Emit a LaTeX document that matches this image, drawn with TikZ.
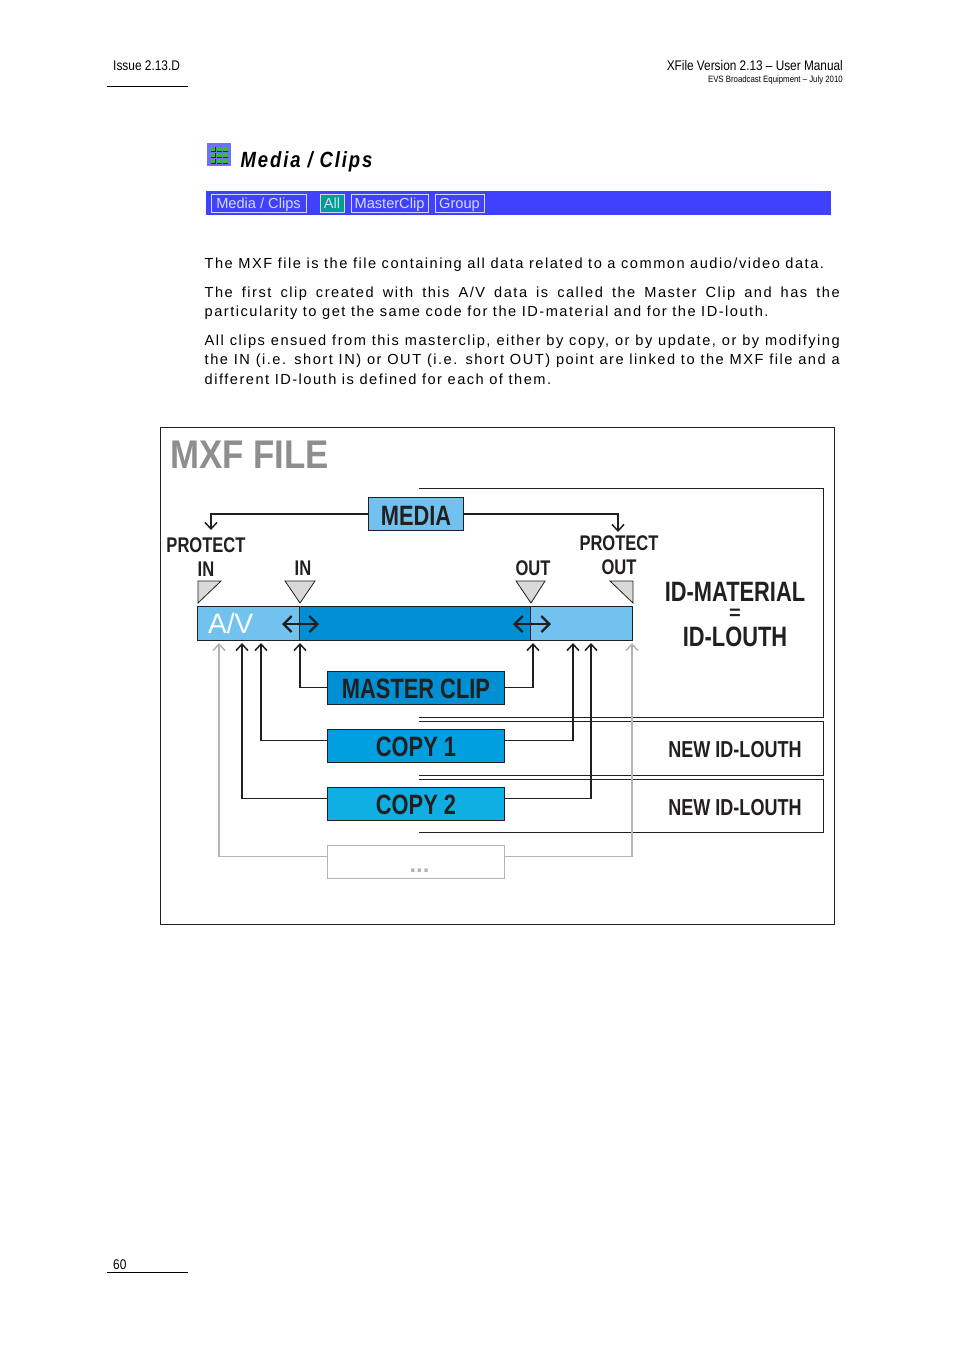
\documentclass[tikz,border=0pt]{standalone}
\usepackage{fontspec}
\setmainfont{Liberation Sans}
\newfontfamily\bodyfont[LetterSpace=10.3]{Liberation Sans}
\newfontfamily\titlefont[LetterSpace=8.5,FakeStretch=0.84]{Liberation Sans}
\newfontfamily\narrowfont[FakeStretch=0.78]{Liberation Sans}
\newfontfamily\headfont[FakeStretch=0.85]{Liberation Sans}
\newfontfamily\filefont[FakeStretch=0.87]{Liberation Sans}
\usetikzlibrary{arrows.meta, positioning}
\definecolor{BandBlue}{HTML}{4040FF}
\definecolor{TabText}{HTML}{D8D8FF}
\definecolor{TabTeal}{HTML}{009E8E}
\definecolor{ClipLight}{HTML}{72C2F0}
\definecolor{ClipDark}{HTML}{008FD3}
\definecolor{CopyOne}{HTML}{009FE0}
\definecolor{CopyTwo}{HTML}{0FAEE3}
\definecolor{MarkGrey}{HTML}{D9D9D9}
\definecolor{FileGrey}{HTML}{8E8E8E}
\definecolor{InkBlack}{HTML}{231F20}
\definecolor{FaintGrey}{HTML}{B4B4B4}
\definecolor{IconGreen}{HTML}{30C030}
\tikzset{
    pagetext/.style={
        inner sep=0pt,
        anchor=base west,
        text=black
    },
    bodytext/.style={
        pagetext,
        text width=635pt,
        align=justify,
        font=\fontsize{14.6}{19.5}\selectfont\bodyfont
    },
    tabbox/.style={
        draw=TabText,
        line width=0.8pt,
        minimum height=18pt,
        inner sep=0pt,
        text height=11pt,
        text depth=2pt,
        text=TabText,
        font=\fontsize{14.6}{16}\selectfont
    },
    box/.style={
        draw=InkBlack,
        line width=0.8pt,
        fill=#1,
        minimum width=177pt,
        minimum height=33pt,
        inner sep=0pt,
        text height=22pt,
        text depth=0pt,
        text=InkBlack,
        font=\fontsize{28}{30}\selectfont\narrowfont\bfseries
    },
    box/.default=ClipDark,
    marktext/.style={
        inner sep=0pt,
        text=InkBlack,
        font=\fontsize{21.2}{24}\selectfont\narrowfont\bfseries
    },
    bigtext/.style={
        inner sep=0pt,
        text=InkBlack,
        font=\fontsize{28}{30}\selectfont\narrowfont\bfseries
    },
    newtext/.style={
        inner sep=0pt,
        text=InkBlack,
        font=\fontsize{23.1}{26}\selectfont\narrowfont\bfseries
    },
    marker/.style={
        draw=InkBlack,
        line width=0.8pt,
        fill=MarkGrey
    },
    panel/.style={
        draw=InkBlack,
        line width=0.9pt
    },
    arrow/.style={
        -{Straight Barb[length=6.5pt,width=12pt,line width=1.5pt]},
        line width=1.5pt,
        InkBlack
    },
    greyarrow/.style={
        arrow,
        FaintGrey
    },
    bothways/.style={
        {Straight Barb[length=8pt,width=16pt,line width=2.3pt]}-{Straight Barb[length=8pt,width=16pt,line width=2.3pt]},
        line width=2.3pt,
        InkBlack
    }
}
\begin{document}
\begin{tikzpicture}[x=1pt, y=-1pt]
    \useasboundingbox[fill=white] (0,0) rectangle (954,1350);

    % Page header
    \node[pagetext, font=\fontsize{14}{16}\selectfont\headfont] (issue) at (113,70) {Issue 2.13.D};
    \node[pagetext, anchor=base east, font=\fontsize{13.9}{16}\selectfont\headfont] (manual) at (843,70) {XFile Version 2.13 – User Manual};
    \node[pagetext, anchor=base east, font=\fontsize{9.2}{11}\selectfont\headfont] (vendor) at (843,82) {EVS Broadcast Equipment – July 2010};
    \draw[line width=0.8pt] (107,86.5) -- (188,86.5);

    % Section title
    \fill[BandBlue!75!white] (207,143) rectangle (231,166);
    \foreach \col in {0,1,2}
        \foreach \row in {0,1,2} {
            \fill[black!85] (210.5+6.2*\col,147+6*\row) rectangle +(5.2,5.2);
            \fill[IconGreen] (211+6.2*\col,147+6*\row) rectangle +(4.4,3.8);
        }
    \node[pagetext, font=\fontsize{22}{24}\selectfont\titlefont\bfseries\itshape] (title) at (240.5,167) {Media / Clips};

    % Tab band
    \fill[BandBlue] (206,191) rectangle (831,215);
    \node[tabbox, minimum width=95pt] (tabMedia) at (258.5,203.5) {Media / Clips};
    \node[tabbox, minimum width=24pt, fill=TabTeal] (tabAll) at (332,203.5) {All};
    \node[tabbox, minimum width=77pt] (tabMaster) at (389.5,203.5) {MasterClip};
    \node[tabbox, minimum width=49pt] (tabGroup) at (459.5,203.5) {Group};

    % Body text
    \node[bodytext] (paraA) at (204.5,268) {The MXF file is the file containing all data related to a common audio/video data.};
    \node[bodytext] (paraB) at (204.5,297) {The first clip created with this A/V data is called the Master Clip and has the\linebreak particularity to get the same code for the ID-material and for the ID-louth.};
    \node[bodytext] (paraC) at (204.5,345) {All clips ensued from this masterclip, either by copy, or by update, or by modifying\linebreak the IN (i.e. short IN) or OUT (i.e. short OUT) point are linked to the MXF file and a\linebreak different ID-louth is defined for each of them.};

    % Frame and heading
    \draw[panel] (160.5,427.5) rectangle (834.5,924.5);
    \node[anchor=west, inner sep=0pt, text=FileGrey, font=\fontsize{40}{42}\selectfont\filefont\bfseries] (fileName) at (170,455) {MXF FILE};

    % Right panels
    \draw[panel] (419,488.5) -| (823.5,717.5) -- (419,717.5);
    \draw[panel] (419,721.5) -| (823.5,775.5) -- (419,775.5);
    \draw[panel] (419,779.5) -| (823.5,832.5) -- (419,832.5);
    \node[bigtext] (idMaterial) at (735,592) {ID-MATERIAL};
    \node[bigtext, font=\fontsize{20}{22}\selectfont\bfseries] (idEquals) at (735,614) {=};
    \node[bigtext] (idLouth) at (735,637) {ID-LOUTH};
    \node[newtext] (newLouthA) at (735,750) {NEW ID-LOUTH};
    \node[newtext] (newLouthB) at (735,808) {NEW ID-LOUTH};

    % Clip bar
    \node[draw=InkBlack, line width=0.8pt, fill=ClipLight, minimum width=435pt, minimum height=34pt, inner sep=0pt] (bar) at (415.2,623) {};
    \node[draw=InkBlack, line width=0.8pt, fill=ClipDark, minimum width=231pt, minimum height=34pt, inner sep=0pt] (barDark) at (415.2,623) {};
    \node[anchor=west, inner sep=0pt, text=white, font=\fontsize{28}{31}\selectfont] (avLabel) at (208,623) {A/V};
    \coordinate (inLeft) at (282,624);
    \coordinate (inRight) at (319,624);
    \coordinate (outLeft) at (513,624);
    \coordinate (outRight) at (551,624);
    \draw[bothways] (inLeft) -- (inRight);
    \draw[bothways] (outLeft) -- (outRight);

    % Markers
    \draw[marker] (198,581) -- (221,581) -- (198,603) -- cycle;
    \draw[marker] (285,581) -- (315,581) -- (300,603) -- cycle;
    \draw[marker] (516,581) -- (545,581) -- (531,603) -- cycle;
    \draw[marker] (610,581) -- (633,581) -- (633,603) -- cycle;
    \node[marktext] (protectIn) at (206,545) {PROTECT};
    \node[marktext] (protectInMark) at (206,569) {IN};
    \node[marktext] (inMark) at (303,568) {IN};
    \node[marktext] (outMark) at (533,568) {OUT};
    \node[marktext] (protectOutMark) at (619,567) {OUT};
    \node[marktext] (protectOut) at (619,543) {PROTECT};

    % Boxes
    \node[box=ClipLight, minimum width=95pt] (media) at (416,514) {MEDIA};
    \node[box=ClipDark] (masterClip) at (416,687.5) {MASTER CLIP};
    \node[box=CopyOne] (copyOne) at (416,745.5) {COPY 1};
    \node[box=CopyTwo] (copyTwo) at (416,803.5) {COPY 2};
    \node[box=white, draw=FaintGrey, text=FaintGrey, text height=10pt, font=\fontsize{24}{26}\selectfont\bfseries] (moreClips) at (416,861.5) {\hspace*{7pt}\raisebox{-6pt}{...}};

    % Connectors
    \coordinate (protectInTip) at (211,530);
    \coordinate (protectOutTip) at (618,532);
    \draw[arrow] (media.west) -| (protectInTip);
    \draw[arrow] (media.east) -| (protectOutTip);

    \coordinate (masterInTip) at (300,643);
    \coordinate (masterOutTip) at (533,643);
    \draw[arrow] (masterClip.west) -| (masterInTip);
    \draw[arrow] (masterClip.east) -| (masterOutTip);

    \coordinate (copyOneInTip) at (261,643);
    \coordinate (copyOneOutTip) at (573,643);
    \draw[arrow] ([yshift=5pt]copyOne.west) -| (copyOneInTip);
    \draw[arrow] ([yshift=5pt]copyOne.east) -| (copyOneOutTip);

    \coordinate (copyTwoInTip) at (242,643);
    \coordinate (copyTwoOutTip) at (591,643);
    \draw[arrow] ([yshift=5pt]copyTwo.west) -| (copyTwoInTip);
    \draw[arrow] ([yshift=5pt]copyTwo.east) -| (copyTwoOutTip);

    \coordinate (moreInTip) at (219,643);
    \coordinate (moreOutTip) at (632,643);
    \draw[greyarrow] ([yshift=5pt]moreClips.west) -| (moreInTip);
    \draw[greyarrow] ([yshift=5pt]moreClips.east) -| (moreOutTip);

    % Page footer
    \node[pagetext, font=\fontsize{14}{16}\selectfont\headfont] (pageNumber) at (113,1269) {60};
    \draw[line width=0.8pt] (107,1272.5) -- (188,1272.5);
\end{tikzpicture}
\end{document}
